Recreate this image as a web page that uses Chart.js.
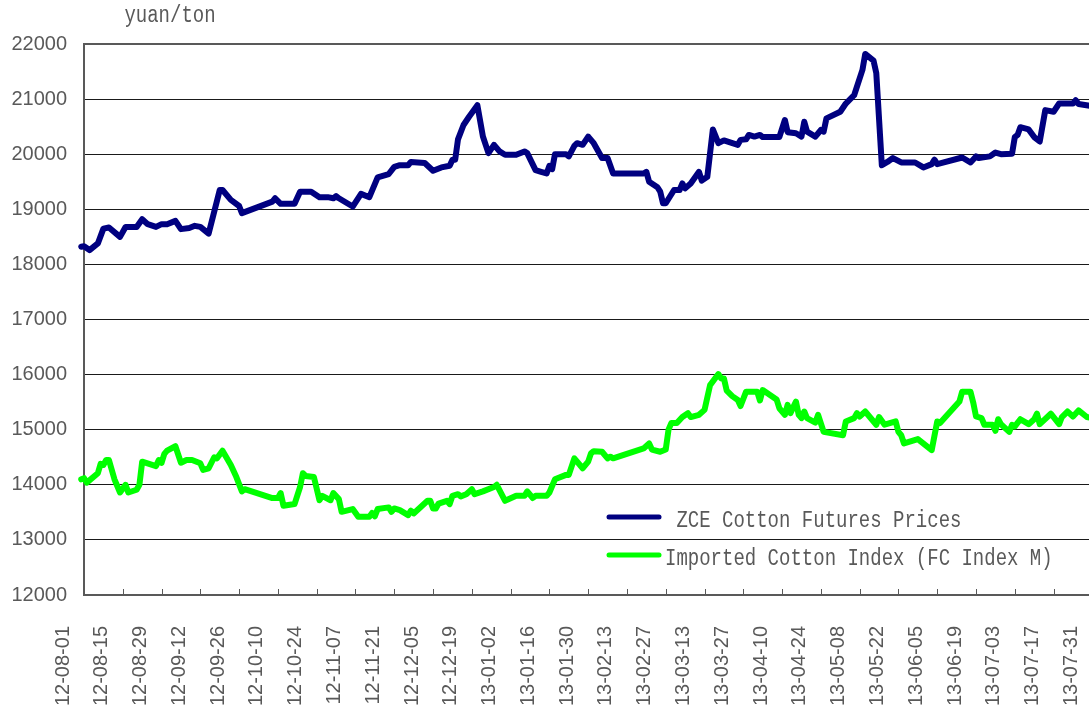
<!DOCTYPE html>
<html>
<head>
<meta charset="utf-8">
<title>ZCE cotton futures vs imported cotton index</title>
<script src="https://cdn.jsdelivr.net/npm/chart.js@4.4.1/dist/chart.umd.min.js"></script>
<style>
  html, body { margin: 0; padding: 0; overflow: hidden; background: #fff; }
  canvas { display: block; }
</style>
</head>
<body>
<canvas id="cottonChart" width="1115" height="740"></canvas>
<script>
// axis labels, one every two weeks
const tickDates = ['2012-08-01', '2012-08-15', '2012-08-29', '2012-09-12', '2012-09-26', '2012-10-10',
    '2012-10-24', '2012-11-07', '2012-11-21', '2012-12-05', '2012-12-19', '2013-01-02', '2013-01-16',
    '2013-01-30', '2013-02-13', '2013-02-27', '2013-03-13', '2013-03-27', '2013-04-10', '2013-04-24',
    '2013-05-08', '2013-05-22', '2013-06-05', '2013-06-19', '2013-07-03', '2013-07-17', '2013-07-31'];

const unitLabel = 'yuan/ton';
const zceName = ' ZCE Cotton Futures Prices';
const fcName = 'Imported Cotton Index (FC Index M)';

const zceDates = ['2012-07-31', '2012-08-01', '2012-08-03', '2012-08-06', '2012-08-08', '2012-08-10', '2012-08-14',
    '2012-08-16', '2012-08-20', '2012-08-22', '2012-08-24', '2012-08-27', '2012-08-29', '2012-08-31', '2012-09-03',
    '2012-09-05', '2012-09-08', '2012-09-10', '2012-09-12', '2012-09-15', '2012-09-19', '2012-09-20', '2012-09-23',
    '2012-09-26', '2012-09-27', '2012-10-08', '2012-10-09', '2012-10-11', '2012-10-16', '2012-10-18', '2012-10-22',
    '2012-10-25', '2012-10-28', '2012-10-30', '2012-10-31', '2012-11-01', '2012-11-06', '2012-11-09', '2012-11-12',
    '2012-11-15', '2012-11-19', '2012-11-21', '2012-11-23', '2012-11-26', '2012-11-27', '2012-12-02', '2012-12-05',
    '2012-12-08', '2012-12-11', '2012-12-12', '2012-12-13', '2012-12-14', '2012-12-16', '2012-12-18', '2012-12-21',
    '2012-12-23', '2012-12-25', '2012-12-27', '2012-12-29', '2012-12-31', '2013-01-04', '2013-01-07', '2013-01-08',
    '2013-01-11', '2013-01-13', '2013-01-15', '2013-01-16', '2013-01-17', '2013-01-18', '2013-01-22', '2013-01-23',
    '2013-01-25', '2013-01-26', '2013-01-28', '2013-01-30', '2013-02-01', '2013-02-04', '2013-02-06', '2013-02-08',
    '2013-02-19', '2013-02-20', '2013-02-21', '2013-02-24', '2013-02-25', '2013-02-26', '2013-02-27', '2013-03-02',
    '2013-03-04', '2013-03-05', '2013-03-06', '2013-03-08', '2013-03-11', '2013-03-12', '2013-03-14', '2013-03-16',
    '2013-03-18', '2013-03-20', '2013-03-25', '2013-03-26', '2013-03-28', '2013-03-29', '2013-03-31', '2013-04-02',
    '2013-04-03', '2013-04-09', '2013-04-11', '2013-04-12', '2013-04-15', '2013-04-17', '2013-04-18', '2013-04-19',
    '2013-04-22', '2013-04-24', '2013-04-25', '2013-04-26', '2013-05-01', '2013-05-03', '2013-05-06', '2013-05-09',
    '2013-05-10', '2013-05-13', '2013-05-14', '2013-05-16', '2013-05-18', '2013-05-20', '2013-05-23', '2013-05-28',
    '2013-05-31', '2013-06-03', '2013-06-04', '2013-06-05', '2013-06-14', '2013-06-17', '2013-06-19', '2013-06-20',
    '2013-06-24', '2013-06-26', '2013-06-28', '2013-07-02', '2013-07-03', '2013-07-04', '2013-07-05', '2013-07-08',
    '2013-07-10', '2013-07-12', '2013-07-14', '2013-07-17', '2013-07-19', '2013-07-24', '2013-07-25', '2013-07-26',
    '2013-07-30', '2013-08-01'];
const zcePrices = [18320, 18330, 18260, 18380, 18650, 18670, 18500,
    18680, 18680, 18820, 18730, 18680, 18730, 18730, 18790,
    18640, 18660, 18700, 18680, 18560, 19350, 19350, 19170,
    19060, 18930, 19140, 19200, 19100, 19100, 19320, 19320,
    19220, 19220, 19200, 19240, 19200, 19050, 19280, 19220,
    19580, 19640, 19770, 19800, 19800, 19860, 19840, 19700,
    19760, 19790, 19900, 19900, 20270, 20530, 20680, 20890,
    20320, 20020, 20170, 20050, 19990, 19990, 20050, 20020,
    19710, 19680, 19650, 19790, 19730, 20000, 20000, 19960,
    20150, 20200, 20170, 20320, 20200, 19930, 19930, 19650,
    19650, 19680, 19500, 19400, 19320, 19110, 19110, 19350,
    19350, 19470, 19380, 19470, 19680, 19520, 19590, 20450,
    20200, 20250, 20170, 20260, 20270, 20350, 20320, 20350,
    20310, 20310, 20620, 20400, 20380, 20320, 20590, 20410,
    20320, 20440, 20410, 20650, 20770, 20920, 21070, 21530,
    21820, 21700, 21470, 19800, 19860, 19930, 19850, 19850,
    19760, 19820, 19900, 19820, 19940, 19850, 19960, 19930,
    19960, 20030, 20000, 20010, 20310, 20350, 20490, 20450,
    20310, 20230, 20800, 20770, 20920, 20920, 20980, 20910,
    20880, 20870];

const fcDates = ['2012-07-31', '2012-08-01', '2012-08-02', '2012-08-06', '2012-08-07', '2012-08-08', '2012-08-09',
    '2012-08-10', '2012-08-12', '2012-08-14', '2012-08-16', '2012-08-17', '2012-08-20', '2012-08-21', '2012-08-22',
    '2012-08-27', '2012-08-28', '2012-08-29', '2012-08-30', '2012-08-31', '2012-09-03', '2012-09-05', '2012-09-07',
    '2012-09-09', '2012-09-12', '2012-09-13', '2012-09-15', '2012-09-17', '2012-09-18', '2012-09-20', '2012-09-23',
    '2012-09-25', '2012-09-27', '2012-09-28', '2012-10-08', '2012-10-10', '2012-10-11', '2012-10-12', '2012-10-16',
    '2012-10-18', '2012-10-19', '2012-10-20', '2012-10-23', '2012-10-25', '2012-10-26', '2012-10-29', '2012-10-30',
    '2012-11-01', '2012-11-02', '2012-11-06', '2012-11-08', '2012-11-12', '2012-11-13', '2012-11-14', '2012-11-15',
    '2012-11-19', '2012-11-20', '2012-11-21', '2012-11-23', '2012-11-26', '2012-11-27', '2012-11-28', '2012-12-03',
    '2012-12-04', '2012-12-05', '2012-12-06', '2012-12-07', '2012-12-10', '2012-12-11', '2012-12-12', '2012-12-14',
    '2012-12-15', '2012-12-17', '2012-12-19', '2012-12-20', '2012-12-23', '2012-12-27', '2012-12-28', '2012-12-31',
    '2013-01-04', '2013-01-07', '2013-01-08', '2013-01-10', '2013-01-11', '2013-01-15', '2013-01-16', '2013-01-18',
    '2013-01-22', '2013-01-23', '2013-01-25', '2013-01-28', '2013-01-30', '2013-01-31', '2013-02-01', '2013-02-04',
    '2013-02-06', '2013-02-07', '2013-02-08', '2013-02-19', '2013-02-21', '2013-02-22', '2013-02-25', '2013-02-27',
    '2013-02-28', '2013-03-01', '2013-03-03', '2013-03-05', '2013-03-07', '2013-03-08', '2013-03-11', '2013-03-13',
    '2013-03-15', '2013-03-18', '2013-03-19', '2013-03-20', '2013-03-21', '2013-03-23', '2013-03-25', '2013-03-26',
    '2013-03-28', '2013-04-01', '2013-04-02', '2013-04-03', '2013-04-08', '2013-04-09', '2013-04-11', '2013-04-12',
    '2013-04-13', '2013-04-15', '2013-04-16', '2013-04-17', '2013-04-18', '2013-04-19', '2013-04-22', '2013-04-23',
    '2013-04-25', '2013-05-02', '2013-05-03', '2013-05-06', '2013-05-07', '2013-05-08', '2013-05-10', '2013-05-14',
    '2013-05-15', '2013-05-17', '2013-05-21', '2013-05-22', '2013-05-23', '2013-05-24', '2013-05-29', '2013-06-03',
    '2013-06-05', '2013-06-06', '2013-06-13', '2013-06-14', '2013-06-17', '2013-06-18', '2013-06-19', '2013-06-21',
    '2013-06-22', '2013-06-25', '2013-06-26', '2013-06-27', '2013-06-28', '2013-07-01', '2013-07-02', '2013-07-03',
    '2013-07-05', '2013-07-08', '2013-07-10', '2013-07-11', '2013-07-12', '2013-07-16', '2013-07-19', '2013-07-20',
    '2013-07-22', '2013-07-24', '2013-07-26', '2013-07-29', '2013-08-01'];
const fcPrices = [14100, 14120, 14040, 14210, 14380, 14360, 14450,
    14450, 14100, 13860, 14000, 13860, 13910, 14000, 14420,
    14340, 14450, 14400, 14560, 14620, 14700, 14400, 14450,
    14450, 14390, 14270, 14300, 14500, 14480, 14620, 14360,
    14140, 13880, 13920, 13760, 13760, 13850, 13620, 13650,
    13960, 14210, 14160, 14140, 13720, 13800, 13720, 13850,
    13740, 13510, 13560, 13420, 13420, 13490, 13430, 13560,
    13590, 13510, 13570, 13540, 13450, 13530, 13480, 13710,
    13710, 13570, 13570, 13660, 13710, 13650, 13800, 13830,
    13790, 13830, 13920, 13830, 13880, 13960, 14000, 13710,
    13800, 13800, 13880, 13760, 13800, 13800, 13860, 14100,
    14180, 14180, 14480, 14300, 14420, 14570, 14610, 14600,
    14480, 14510, 14480, 14660, 14750, 14640, 14600, 14640,
    15000, 15120, 15120, 15230, 15300, 15230, 15270, 15360,
    15810, 16010, 15930, 15930, 15710, 15610, 15540, 15430,
    15690, 15690, 15530, 15720, 15550, 15390, 15270, 15450,
    15300, 15510, 15270, 15210, 15330, 15210, 15130, 15270,
    14960, 14900, 15150, 15210, 15300, 15240, 15330, 15090,
    15230, 15090, 15150, 14960, 14900, 14750, 14830, 14630,
    15150, 15120, 15510, 15690, 15690, 15490, 15240, 15210,
    15090, 15090, 14980, 15190, 15100, 14960, 15090, 15060,
    15190, 15100, 15190, 15290, 15100, 15290, 15100, 15230,
    15330, 15240, 15350, 15230, 15200];

const yMin = 12000;
const yMax = 22000;
const textGrey = '#595959';
const monoFont = '"Liberation Mono", "DejaVu Sans Mono", monospace';

//days counted from the first axis label
const dayOf = (iso) => {
    const [y, m, d] = iso.split('-').map(Number);
    return (Date.UTC(y, m - 1, d) - Date.UTC(2012, 7, 1)) / 86400000;
}

const toPoints = (dates, values) => dates.map((d, i) => ({ x: dayOf(d), y: values[i] }));

//the original text is a tall CJK-style mono face, so stretch it a little
const tallText = (ctx, text, x, baseline) => {
    ctx.save();
    ctx.translate(x, baseline);
    ctx.scale(1, 1.28);
    ctx.fillText(text, 0, 0);
    ctx.restore();
}

//legend, unit label and the inward tick marks of the date axis
const decorations = {
    id: 'decorations',
    afterDraw(chart) {
        const { ctx, chartArea, scales } = chart;
        ctx.save();

        ctx.strokeStyle = textGrey;
        ctx.lineWidth = 1;
        for (const tick of scales.x.ticks) {
            const px = Math.round(scales.x.getPixelForValue(tick.value)) + 0.5;
            ctx.beginPath();
            ctx.moveTo(px, chartArea.bottom);
            ctx.lineTo(px, chartArea.bottom - 6);
            ctx.stroke();
        }

        ctx.fillStyle = textGrey;
        ctx.font = '19px ' + monoFont;
        ctx.textAlign = 'center';
        ctx.textBaseline = 'alphabetic';
        tallText(ctx, unitLabel, 170, 22);

        const entries = [
            { name: zceName, color: '#000080', y: 517 },
            { name: fcName, color: '#00ff00', y: 555 }
        ];
        ctx.textAlign = 'left';
        ctx.lineCap = 'round';
        for (const e of entries) {
            ctx.strokeStyle = e.color;
            ctx.lineWidth = 5;
            ctx.beginPath();
            ctx.moveTo(609, e.y);
            ctx.lineTo(659, e.y);
            ctx.stroke();
            ctx.fillStyle = textGrey;
            tallText(ctx, e.name, 665, e.y + 10);
        }
        ctx.restore();
    }
}

const lineStyle = {
    borderWidth: 6,
    pointRadius: 0,
    tension: 0,
    borderJoinStyle: 'round',
    borderCapStyle: 'round',
    clip: 6
}

new Chart(document.getElementById('cottonChart'), {
    type: 'line',
    data: {
        datasets: [
            { label: zceName, data: toPoints(zceDates, zcePrices), borderColor: '#000080', ...lineStyle },
            { label: fcName, data: toPoints(fcDates, fcPrices), borderColor: '#00ff00', ...lineStyle }
        ]
    },
    options: {
        responsive: false,
        animation: false,
        devicePixelRatio: 1,
        layout: { padding: { top: 44, right: 6, left: 0, bottom: 0 } },
        plugins: { legend: { display: false }, tooltip: { enabled: false } },
        scales: {
            x: {
                type: 'linear',
                min: 0,
                max: 370,
                afterFit: (scale) => {
                    scale.height = 145;
                    scale.paddingLeft = 0;
                    scale.paddingRight = 0;
                },
                afterBuildTicks: (scale) => {
                    scale.ticks = tickDates.map(d => ({ value: dayOf(d) }));
                },
                grid: { display: false, drawTicks: false },
                border: { display: true, color: textGrey, width: 2 },
                ticks: {
                    autoSkip: false,
                    minRotation: 90,
                    maxRotation: 90,
                    padding: 31,
                    labelOffset: -21,
                    color: textGrey,
                    font: { family: '"Liberation Sans", Arial, sans-serif', size: 20 },
                    callback: (value, i) => tickDates[i].slice(2)
                }
            },
            y: {
                min: yMin,
                max: yMax,
                afterFit: (scale) => {
                    scale.width = 84;
                    scale.paddingTop = 0;
                    scale.paddingBottom = 0;
                },
                grid: {
                    drawTicks: false,
                    color: (c) => c.tick && c.tick.value === yMax ? textGrey : '#1a1a1a',
                    lineWidth: (c) => c.tick && c.tick.value === yMax ? 2 : 1
                },
                border: { display: true, color: textGrey, width: 2 },
                ticks: {
                    stepSize: 1000,
                    padding: 17,
                    color: textGrey,
                    font: { family: '"Liberation Sans", Arial, sans-serif', size: 20 },
                    callback: (value) => String(value)
                }
            }
        }
    },
    plugins: [decorations]
});
</script>
</body>
</html>
